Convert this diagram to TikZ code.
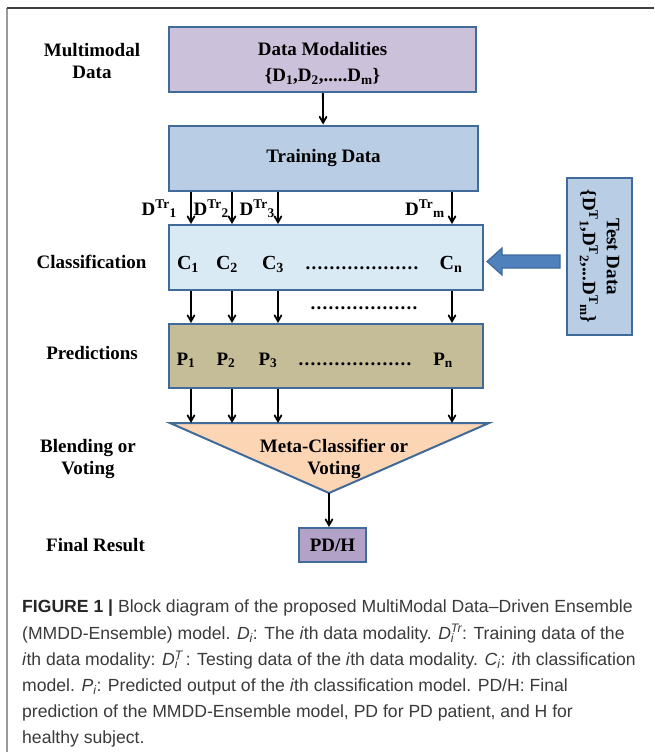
\documentclass[tikz,border=0pt]{standalone}
\usepackage{fontspec}
\setmainfont{Liberation Serif}
\newfontfamily\capfont{Liberation Sans}
\usetikzlibrary{arrows,calc}

\definecolor{edgeblue}{HTML}{3F6A9A}
\definecolor{modfill}{HTML}{CCC1DA}
\definecolor{trainfill}{HTML}{B9CDE5}
\definecolor{clsfill}{HTML}{DAEAF4}
\definecolor{predfill}{HTML}{C4BD97}
\definecolor{blendfill}{HTML}{FCD5B5}
\definecolor{resfill}{HTML}{B3A2C7}
\definecolor{fatblue}{HTML}{4F81BD}
\definecolor{captext}{HTML}{3A3A3A}

\newcommand{\Dtr}[1]{D\textsuperscript{Tr}\textsubscript{#1}}
\newcommand{\Dte}[1]{D\textsuperscript{T}\textsubscript{#1}}
\newcommand{\dotrow}[1]{\hbox to #1{\leaders\hbox to 6pt{\hss.\hss}\hfill}}
\newcommand{\supsub}[2]{\rlap{\textsubscript{#2}}\textsuperscript{#1}}

\tikzset{
  blk/.style = {rectangle, draw=edgeblue, line width=2pt, align=center,
    inner sep=0pt, font=\bfseries\fontsize{19}{25}\selectfont},
  blk_mod/.style = {blk, fill=modfill, minimum width=307, minimum height=65,
    font=\bfseries\fontsize{19}{26}\selectfont},% data modalities
  blk_train/.style = {blk, fill=trainfill, minimum width=309, minimum height=65},% training data
  blk_cls/.style = {blk, fill=clsfill, minimum width=314, minimum height=65},% classifiers
  blk_pred/.style = {blk, fill=predfill, minimum width=314, minimum height=64},% predictions
  blk_test/.style = {blk, fill=trainfill, minimum width=157, minimum height=65,
    font=\bfseries\fontsize{19}{24}\selectfont},% test data, turned
  blk_res/.style = {blk, fill=resfill, minimum width=67, minimum height=34},% final result
  lbl/.style = {align=center, inner sep=0pt, font=\bfseries\fontsize{19}{22.5}\selectfont},
  cp/.style = {inner sep=0pt, anchor=base, font=\bfseries\fontsize{19}{22}\selectfont},
  arr/.style = {->, >=angle 60, line width=1.8pt},
  fatarr/.style = {draw=edgeblue, fill=fatblue, line width=1.2pt, line join=miter},
}

\begin{document}
\begin{tikzpicture}[x=1pt,y=-1pt]
  \useasboundingbox (0,0) rectangle (654,752);
  % frame
  \draw[black!40, line width=1.5pt] (7,752) -- (7,8);
  \draw[black!75, line width=2pt] (7,8) -- (654,8);

  % stage names
  \node [lbl] (l_mod) at (92,61) {Multimodal\\Data};
  \node [lbl] (l_cls) at (91.5,262) {Classification};
  \node [lbl] (l_pred) at (92,353) {Predictions};
  \node [lbl] (l_blend) at (88,459) {Blending or\\Voting};
  \node [lbl] (l_res) at (95.5,545) {Final Result};

  % blocks
  \node [blk_mod] (mod) at (322.5,59.5)
    {\rule{0pt}{21pt}Data Modalities\\\{D\textsubscript{1},D\textsubscript{2},.....D\textsubscript{m}\}};
  \node [blk_train] (train) at (323.5,158) {Training Data};
  \node [blk_cls] (cls) at (326,257.5) {};
  \node [blk_pred] (pred) at (326,356) {};
  \node [blk_test, rotate=-90] (test) at (599.5,256.5)
    {Test Data\\\{\Dte{1},\Dte{2},...\Dte{m}\}};
  \node [blk_res] (res) at (332.5,545) {PD/H};

  % classifiers and their outputs
  \foreach \n/\x/\t in {c1/188/1,c2/227/2,c3/273/3,cn/451/n}
    \node [cp, font=\bfseries\fontsize{20}{22}\selectfont] (\n) at (\x,269) {C\textsubscript{\t}};
  \foreach \n/\x/\t in {p1/186/1,p2/226/2,p3/268/3,pn/443/n}
    \node [cp] (\n) at (\x,365) {P\textsubscript{\t}};
  \node [cp] (c_dots) at (362.5,269) {\dotrow{115pt}};
  \node [cp] (p_dots) at (355.5,365) {\dotrow{115pt}};
  \node [cp] (m_dots) at (365,309.5) {\dotrow{110pt}};

  % arrow columns
  \coordinate (k1) at (191,0);
  \coordinate (k2) at (232,0);
  \coordinate (k3) at (278,0);
  \coordinate (km) at (452,0);

  % meta-classifier
  \coordinate (b_l) at (170,423);
  \coordinate (b_r) at (489,423);
  \coordinate (b_tip) at (329,493);
  \draw [draw=edgeblue, fill=blendfill, line width=2pt, line join=miter] (b_l) -- (b_r) -- (b_tip) -- cycle;
  \node [lbl] (meta) at (334,459) {Meta-Classifier or\\Voting};

  % training subsets
  \node [cp, anchor=base east] (d1) at (177,215) {\Dtr{1}};
  \node [cp, anchor=base east] (d2) at (229,215) {\Dtr{2}};
  \node [cp, anchor=base east] (d3) at (275,215) {\Dtr{3}};
  \node [cp, anchor=base east] (dm) at (445,215) {\Dtr{m}};

  % connectors
  \draw [arr] (mod) -- (train);
  \foreach \k in {k1,k2,k3,km}{
    \draw [arr] (train.south -| \k) -- (cls.north -| \k);
    \draw [arr] (cls.south -| \k) -- (pred.north -| \k);
    \draw [arr] (pred.south -| \k) -- (b_l -| \k);
  }
  \draw [arr] (b_tip) -- (res.north -| b_tip);
  \draw [fatarr] ($(cls.east)+(3,4)$) -- ++(15,-13.5) -- ++(0,7) -- ++(58,0)
    -- ++(0,13) -- ++(-58,0) -- ++(0,7) -- cycle;

  % caption
  \node [anchor=north west, inner sep=0pt, align=left, text=captext,
    font=\capfont\fontsize{17.6}{26.2}\selectfont] (cap) at (22,600)
    {{\bfseries\color{black!85}FIGURE 1 |} Block diagram of the proposed MultiModal Data–Driven Ensemble\\
     (MMDD-Ensemble) model. \textit{D\textsubscript{i}}: The \textit{i}th data modality. \textit{D\supsub{Tr}{i}}: Training data of the\\
     \textit{i}th data modality: \textit{D\supsub{T}{i}}\,: Testing data of the \textit{i}th data modality. \textit{C\textsubscript{i}}: \textit{i}th classification\\
     model. \textit{P\textsubscript{i}}: Predicted output of the \textit{i}th classification model. PD/H: Final\\
     prediction of the MMDD-Ensemble model, PD for PD patient, and H for\\
     healthy subject.};
\end{tikzpicture}
\end{document}
